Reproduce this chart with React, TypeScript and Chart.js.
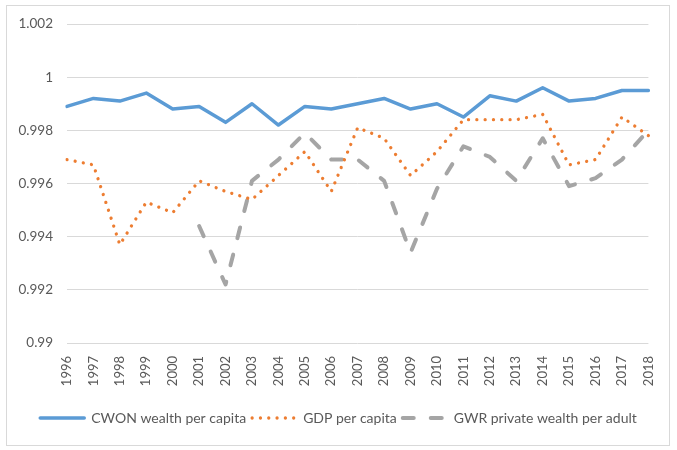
import React, { useEffect, useRef } from "react";
import { Chart, registerables } from "chart.js";

Chart.register(...registerables);

const years = [
  "1996", "1997", "1998", "1999", "2000", "2001", "2002", "2003", "2004", "2005", "2006", "2007",
  "2008", "2009", "2010", "2011", "2012", "2013", "2014", "2015", "2016", "2017", "2018",
];

const cwonWealth = [
  0.9989, 0.9992, 0.9991, 0.9994, 0.9988, 0.9989, 0.9983, 0.999, 0.9982, 0.9989, 0.9988, 0.999,
  0.9992, 0.9988, 0.999, 0.9985, 0.9993, 0.9991, 0.9996, 0.9991, 0.9992, 0.9995, 0.9995,
];

const gdpPerCapita = [
  0.9969, 0.9967, 0.9937, 0.9953, 0.9949, 0.9961, 0.9957, 0.9954, 0.9963, 0.9972, 0.9957, 0.9981,
  0.9977, 0.9963, 0.9972, 0.9984, 0.9984, 0.9984, 0.9986, 0.9967, 0.9969, 0.9985, 0.9978,
];

const gwrWealth = [
  null, null, null, null, null, 0.9944, 0.9922, 0.9961, 0.9969, 0.9979, 0.9969, 0.9969,
  0.9961, 0.9934, 0.9958, 0.9974, 0.997, 0.9961, 0.9977, 0.9959, 0.9962, 0.9969, 0.998,
];

const seriesNames = ["CWON wealth per capita", "GDP per capita", "GWR private wealth per adult"];

const yMin = 0.99;
const yMax = 1.002;
const yStep = 0.002;

const FONT = "Lato, 'Open Sans', sans-serif";
const TEXT = "#595959";

const noLabelClip = {
  id: "noLabelClip",
  beforeDraw(c: any) {
    if (c.scales && c.scales.y) {
      c.scales.y._computeLabelArea = () => undefined;
    }
  },
};

export default function App() {
  const ref = useRef<HTMLCanvasElement | null>(null);

  useEffect(() => {
    if (!ref.current) return;
    const chart = new Chart(ref.current, {
      type: "line",
      plugins: [noLabelClip],
      data: {
        labels: years,
        datasets: [
          {
            label: seriesNames[0],
            data: cwonWealth,
            borderColor: "#5B9BD5",
            backgroundColor: "#5B9BD5",
            borderWidth: 3.5,
            pointRadius: 0,
            tension: 0,
            borderCapStyle: "round",
            borderJoinStyle: "round",
          },
          {
            label: seriesNames[1],
            data: gdpPerCapita,
            borderColor: "#ED7D31",
            backgroundColor: "#ED7D31",
            borderWidth: 3.3,
            borderDash: [0.01, 8.3],
            borderCapStyle: "round",
            borderJoinStyle: "round",
            pointRadius: 0,
            tension: 0,
          },
          {
            label: seriesNames[2],
            data: gwrWealth,
            borderColor: "#A5A5A5",
            backgroundColor: "#A5A5A5",
            borderWidth: 4,
            borderDash: [11, 17],
            borderCapStyle: "round",
            borderJoinStyle: "round",
            pointRadius: 0,
            tension: 0,
          },
        ],
      },
      options: {
        animation: false,
        responsive: false,
        maintainAspectRatio: false,
        layout: { padding: { left: 26, right: 26, top: 24, bottom: 15 } },
        plugins: {
          tooltip: { enabled: false },
          legend: {
            position: "bottom",
            labels: {
              usePointStyle: true,
              pointStyle: "line",
              pointStyleWidth: 44,
              padding: 6,
              color: TEXT,
              font: { family: FONT, size: 14 },
              generateLabels: (c: any) => {
                const items = Chart.defaults.plugins.legend.labels.generateLabels(c);
                return items.map((it: any) => {
                  const ds: any = c.data.datasets[it.datasetIndex];
                  return {
                    ...it,
                    pointStyle: "line",
                    strokeStyle: ds.borderColor,
                    fillStyle: ds.borderColor,
                    lineWidth: ds.borderWidth,
                    lineDash: ds.borderDash || [],
                    lineCap: ds.borderCapStyle,
                    fontColor: TEXT,
                  };
                });
              },
            },
          },
        },
        scales: {
          x: {
            grid: { display: false, drawTicks: false },
            border: { display: false },
            ticks: {
              minRotation: 90,
              maxRotation: 90,
              padding: 13,
              color: TEXT,
              font: { family: FONT, size: 13 },
              autoSkip: false,
            },
            afterFit: (scale: any) => {
              scale.height = 62;
            },
          },
          y: {
            min: yMin,
            max: yMax,
            grid: { color: "#D9D9D9", lineWidth: 1, drawTicks: false },
            border: { display: false },
            ticks: {
              stepSize: yStep,
              padding: 14,
              color: TEXT,
              font: { family: FONT, size: 13.5 },
              callback: (v: any) => String(parseFloat(Number(v).toFixed(3))),
            },
            afterFit: (scale: any) => {
              scale.width = 41;
            },
          },
        },
      },
    });
    return () => chart.destroy();
  }, []);

  return (
    <div style={{ position: "absolute", left: 0, top: 0, width: 677, height: 450, background: "#fff" }}>
      <div
        style={{
          position: "absolute",
          left: 6,
          top: 5,
          width: 664,
          height: 441,
          border: "1px solid #D9D9D9",
          boxSizing: "border-box",
        }}
      />
      <canvas ref={ref} width={677} height={450} style={{ position: "absolute", left: 0, top: 0, width: 677, height: 450 }} />
    </div>
  );
}
